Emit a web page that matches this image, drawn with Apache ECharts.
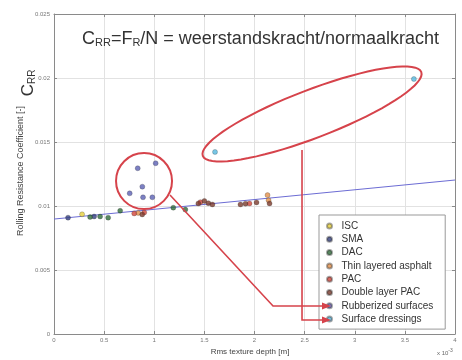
<!DOCTYPE html>
<html>
<head>
<meta charset="utf-8">
<script src="https://cdn.jsdelivr.net/npm/echarts@6/dist/echarts.min.js"></script>
<style>
  html, body { margin: 0; padding: 0; background: #fff; }
  #chart { width: 462px; height: 360px; }
</style>
</head>
<body>
<div id="chart"></div>
<script>
// Rolling resistance coefficient versus RMS texture depth (x in units of 1e-3 m)
const seriesNames = ['ISC', 'SMA', 'DAC', 'Thin layered asphalt', 'PAC',
  'Double layer PAC', 'Rubberized surfaces', 'Surface dressings'];

const iscPoints = [[0.28, 0.00935]];
const smaPoints = [[0.14, 0.00909], [0.40, 0.00918]];
const dacPoints = [[0.36, 0.00914], [0.46, 0.00918], [0.54, 0.00909],
  [0.66, 0.00963], [1.19, 0.00987], [1.31, 0.00972]];
const thinPoints = [[0.84, 0.00946], [2.13, 0.01085], [2.14, 0.01045]];
const pacPoints = [[0.80, 0.00942], [0.90, 0.00950], [1.46, 0.01030], [1.95, 0.01020]];
const dlpacPoints = [[0.88, 0.00934], [1.44, 0.01020], [1.50, 0.01040],
  [1.54, 0.01022], [1.58, 0.01012], [1.86, 0.01012], [1.91, 0.01018],
  [2.02, 0.01028], [2.15, 0.01020]];
const rubberPoints = [[0.835, 0.01295], [1.014, 0.01334], [0.881, 0.01151],
  [0.755, 0.01099], [0.888, 0.01068], [0.981, 0.01068]];
const dressingPoints = [[1.606, 0.01422], [3.59, 0.01992]];

// linear fit drawn across the whole axis
const fitLine = [[0, 0.00898], [4, 0.01203]];

const xTicks = ['0', '0.5', '1', '1.5', '2', '2.5', '3', '3.5', '4'];
const yTicks = ['0', '0.005', '0.01', '0.015', '0.02', '0.025'];

const seriesData = [iscPoints, smaPoints, dacPoints, thinPoints, pacPoints,
  dlpacPoints, rubberPoints, dressingPoints];
const seriesColors = ['#e6cf3c', '#34407e', '#2f6b3a', '#e3904a', '#d2453a',
  '#7a3a2c', '#5b60b4', '#55b8de'];

const chart = echarts.init(document.getElementById('chart'), null, { renderer: 'canvas' });

const axisGray = '#8a8a8a';
const gridCfg = { left: 54, right: 7, top: 14, bottom: 26 };

const scatterSeries = seriesNames.map((name, i) => ({
  name: name,
  type: 'scatter',
  data: seriesData[i],
  symbolSize: 5,
  itemStyle: { color: seriesColors[i], borderColor: 'rgba(40,40,40,0.5)', borderWidth: 0.6 },
  z: 4
}));

const option = {
  animation: false,
  backgroundColor: '#fff',
  grid: gridCfg,
  xAxis: [{
    type: 'value', min: 0, max: 4, interval: 0.5,
    axisLine: { show: true, lineStyle: { color: axisGray } },
    axisTick: { show: true, inside: true, length: 3, lineStyle: { color: axisGray } },
    axisLabel: { fontSize: 6, color: '#777', margin: 3,
      formatter: (v, idx) => xTicks[idx] },
    splitLine: { show: true, lineStyle: { color: '#e2e2e2', width: 1 } }
  }, {
    type: 'value', min: 0, max: 4, interval: 0.5, position: 'top',
    axisLine: { show: true, onZero: false, lineStyle: { color: axisGray } },
    axisTick: { show: true, inside: true, length: 3, lineStyle: { color: axisGray } },
    axisLabel: { show: false }, splitLine: { show: false }
  }],
  yAxis: [{
    type: 'value', min: 0, max: 0.025, interval: 0.005,
    axisLine: { show: true, lineStyle: { color: axisGray } },
    axisTick: { show: true, inside: true, length: 3, lineStyle: { color: axisGray } },
    axisLabel: { fontSize: 6, color: '#777', margin: 4,
      formatter: (v, idx) => yTicks[idx] },
    splitLine: { show: true, lineStyle: { color: '#e2e2e2', width: 1 } }
  }, {
    type: 'value', min: 0, max: 0.025, interval: 0.005, position: 'right',
    axisLine: { show: true, onZero: false, lineStyle: { color: axisGray } },
    axisTick: { show: true, inside: true, length: 3, lineStyle: { color: axisGray } },
    axisLabel: { show: false }, splitLine: { show: false }
  }],
  legend: {
    data: seriesNames,
    orient: 'vertical',
    left: 319, top: 215,
    padding: [5, 12, 4, 7],
    itemGap: 1.3,
    itemWidth: 14, itemHeight: 5,
    icon: 'circle',
    backgroundColor: '#fff',
    borderColor: '#999', borderWidth: 1, borderRadius: 0,
    textStyle: { fontSize: 10, color: '#333', fontFamily: 'Liberation Sans, Arial, sans-serif', lineHeight: 12 }
  },
  series: [{
    name: 'fit', type: 'line', data: fitLine, showSymbol: false,
    lineStyle: { color: '#6c6cd4', width: 1 }, z: 3, silent: true
  }].concat(scatterSeries)
};
chart.setOption(option);

// Red annotation shapes, anchored in data coordinates
const annoRed = '#d6434b';
const px = (x, y) => chart.convertToPixel({ gridIndex: 0 }, [x, y]);

function ellipsePoints(c, a, b, angleDeg) {
  const t = angleDeg * Math.PI / 180;
  const pts = [];
  for (let k = 0; k < 72; k++) {
    const th = k / 72 * Math.PI * 2;
    const u = a * Math.cos(th), v = b * Math.sin(th);
    pts.push([c[0] + u * Math.cos(t) + v * Math.sin(t), c[1] - u * Math.sin(t) + v * Math.cos(t)]);
  }
  return pts;
}

function arrowHead(tip) {
  return { type: 'polygon', shape: { points: [[tip[0], tip[1]], [tip[0] - 9, tip[1] - 3.5], [tip[0] - 9, tip[1] + 3.5]] },
    style: { fill: annoRed }, z: 20 };
}

const circC = px(0.898, 0.01195);
const ellC = px(2.574, 0.01719);
const a1 = [px(1.157, 0.01086), px(2.185, 0.00219), px(2.763, 0.00219)];
const a2 = [px(2.474, 0.014375), px(2.474, 0.00109), px(2.763, 0.00109)];

const txtFont = 'Liberation Sans, Arial, sans-serif';

chart.setOption({
  graphic: [
    { type: 'circle', shape: { cx: circC[0], cy: circC[1], r: 28 },
      style: { fill: 'none', stroke: annoRed, lineWidth: 2 }, z: 20 },
    { type: 'polygon', shape: { points: ellipsePoints(ellC, 117, 24, 21) },
      style: { fill: 'none', stroke: annoRed, lineWidth: 2 }, z: 20 },
    { type: 'polyline', shape: { points: [a1[0], a1[1], [a1[2][0] - 6, a1[2][1]]] },
      style: { stroke: annoRed, lineWidth: 1.6, fill: 'none' }, z: 20 },
    arrowHead(a1[2]),
    { type: 'polyline', shape: { points: [a2[0], a2[1], [a2[2][0] - 6, a2[2][1]]] },
      style: { stroke: annoRed, lineWidth: 1.6, fill: 'none' }, z: 20 },
    arrowHead(a2[2]),
    // formula heading inside the plot
    { type: 'text', left: 82, top: 30, z: 30,
      style: {
        text: '{n|C}{s|RR}{n|=F}{s|R}{n|/N = weerstandskracht/normaalkracht}',
        rich: {
          n: { fontSize: 18, fontFamily: txtFont, fill: '#333', verticalAlign: 'bottom', lineHeight: 21 },
          s: { fontSize: 11, fontFamily: txtFont, fill: '#333', verticalAlign: 'bottom', lineHeight: 17 }
        }
      } },
    // y-axis title (rotated) and the coefficient symbol above it
    { type: 'text', x: 21, y: 171, rotation: Math.PI / 2, z: 30,
      style: { text: 'Rolling Resistance Coefficient [-]', fontSize: 9, fontFamily: txtFont,
        fill: '#444', align: 'center', verticalAlign: 'middle' } },
    { type: 'text', x: 27, y: 83, rotation: Math.PI / 2, z: 30,
      style: {
        text: '{c|C}{d|RR}', align: 'center', verticalAlign: 'middle',
        rich: {
          c: { fontSize: 17, fontFamily: txtFont, fill: '#333', verticalAlign: 'bottom', lineHeight: 20 },
          d: { fontSize: 10, fontFamily: txtFont, fill: '#333', verticalAlign: 'bottom', lineHeight: 16 }
        }
      } },
    // x-axis title and exponent
    { type: 'text', x: 250, y: 352, z: 30,
      style: { text: 'Rms texture depth [m]', fontSize: 8, fontFamily: txtFont, fill: '#444',
        align: 'center', verticalAlign: 'middle' } },
    { type: 'text', x: 437, y: 353, z: 30,
      style: { text: 'x 10{e|-3}', fontSize: 6, fontFamily: txtFont, fill: '#666',
        verticalAlign: 'middle', rich: { e: { fontSize: 5, fill: '#666', padding: [0, 0, 5, 0] } } } }
  ]
});
</script>
</body>
</html>
